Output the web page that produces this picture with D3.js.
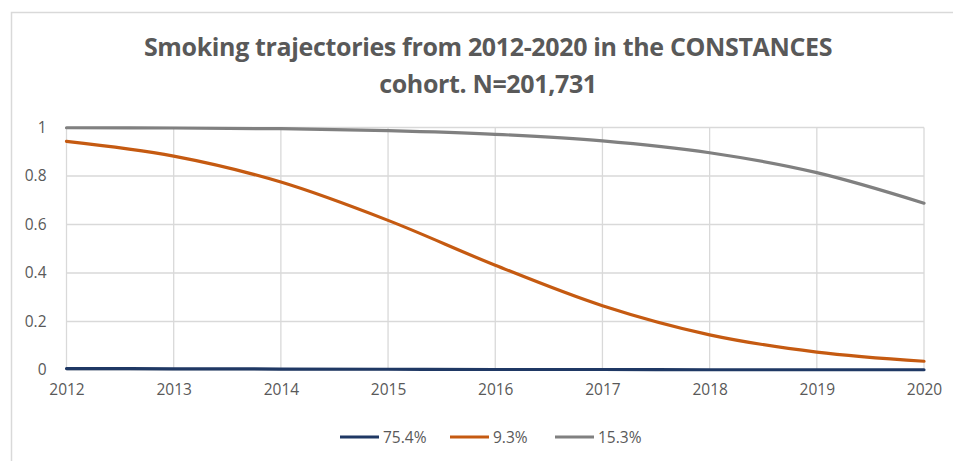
<!DOCTYPE html>
<html><head><meta charset="utf-8">
<script src="https://cdn.jsdelivr.net/npm/d3@7"></script>
<style>body{margin:0;background:#fff}svg{display:block}</style>
</head><body>
<svg id="c" width="953" height="461"></svg>
<script>
const years = [2012,2013,2014,2015,2016,2017,2018,2019,2020];
const seriesNames = ["75.4%","9.3%","15.3%"];
const seriesColors = ["#1f3864","#c55a11","#808080"];
const s754 = [0.006,0.005,0.004,0.003,0.002,0.002,0.001,0.001,0.001];
const s93 = [0.943,0.882,0.775,0.617,0.432,0.265,0.145,0.074,0.036];
const s153 = [0.999,0.998,0.995,0.987,0.972,0.945,0.896,0.814,0.688];
const yTicks = [0,0.2,0.4,0.6,0.8,1];
const titleLines = ["Smoking trajectories from 2012-2020 in the CONSTANCES","cohort. N=201,731"];
const series = [s754,s93,s153];

const svg = d3.select("#c");
const font = "'Open Sans', sans-serif";
svg.append("rect").attr("x",11.5).attr("y",12.5).attr("width",960).attr("height",470)
  .attr("fill","none").attr("stroke","#d9d9d9").attr("stroke-width",1.5);

const x = d3.scaleLinear().domain([2012,2020]).range([66.5,924]);
const y = d3.scaleLinear().domain([0,1]).range([370,127.5]);

const g = svg.append("g");
g.selectAll(".hg").data(yTicks).join("line")
  .attr("x1",x(2012)).attr("x2",x(2020)).attr("y1",d=>y(d)).attr("y2",d=>y(d))
  .attr("stroke","#d9d9d9").attr("stroke-width",1.3);
g.selectAll(".vg").data(years).join("line")
  .attr("x1",d=>x(d)).attr("x2",d=>x(d)).attr("y1",y(0)).attr("y2",y(1))
  .attr("stroke","#d9d9d9").attr("stroke-width",1.3);

const yAxis = d3.axisLeft(y).tickValues(yTicks).tickSize(0).tickPadding(20).tickFormat(d=>String(d));
const ya = svg.append("g").attr("transform",`translate(${x(2012)},0)`).call(yAxis);
ya.select(".domain").remove();
ya.selectAll("text").attr("font-family",font).attr("font-size",15.5).attr("fill","#595959");
const xAxis = d3.axisBottom(x).tickValues(years).tickSize(0).tickPadding(14).tickFormat(d3.format("d"));
const xa = svg.append("g").attr("transform",`translate(0,${y(0)})`).call(xAxis);
xa.select(".domain").remove();
xa.selectAll("text").attr("font-family",font).attr("font-size",15.5).attr("fill","#595959");

const line = d3.line().x((d,i)=>x(years[i])).y(d=>y(d)).curve(d3.curveCatmullRom.alpha(0.5));
svg.selectAll(".ser").data(series).join("path")
  .attr("d",d=>line(d)).attr("fill","none")
  .attr("stroke",(d,i)=>seriesColors[i]).attr("stroke-width",3.2).attr("stroke-linecap","round");

svg.selectAll(".title").data(titleLines).join("text")
  .attr("x",488).attr("y",(d,i)=>56+i*37).attr("text-anchor","middle")
  .attr("font-family",font).attr("font-weight","bold").attr("font-size",25)
  .attr("fill","#595959").attr("letter-spacing",-0.35).text(d=>d);

const legX = [340,450,555];
const lg = svg.selectAll(".leg").data(seriesNames).join("g")
  .attr("transform",(d,i)=>`translate(${legX[i]},437)`);
lg.append("line").attr("x1",0).attr("x2",39).attr("y1",0).attr("y2",0)
  .attr("stroke",(d,i)=>seriesColors[i]).attr("stroke-width",3.2);
lg.append("text").attr("x",43).attr("y",5.5).attr("font-family",font).attr("font-size",15.5)
  .attr("fill","#595959").text(d=>d);
</script>
</body></html>
